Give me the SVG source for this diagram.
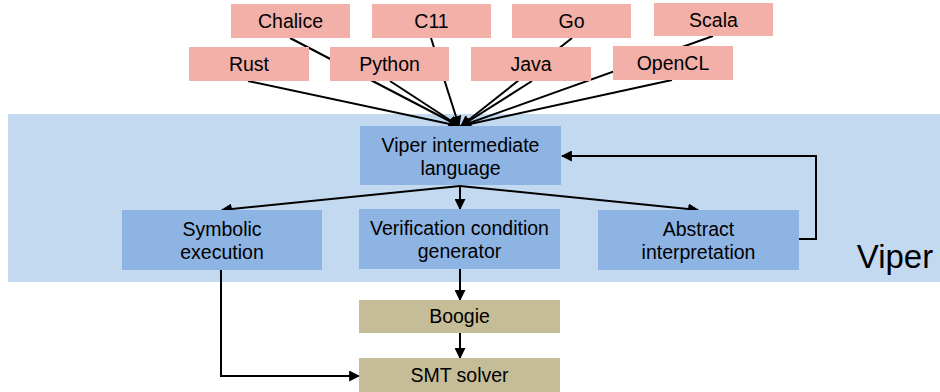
<svg xmlns="http://www.w3.org/2000/svg" width="940" height="392" viewBox="0 0 940 392">
<style>
text{font-family:"Liberation Sans",Arial,sans-serif;font-size:19.5px;fill:#000;text-anchor:middle}
.lang{fill:#F2B0A8}
.vip{fill:#8EB4E3}
.tan{fill:#C4BD97}
.c line,.c polyline{stroke:#000;stroke-width:2;fill:none}
</style>
<defs>
<marker id="ah" viewBox="0 0 10 10" refX="9" refY="5" markerWidth="5.5" markerHeight="5.5" orient="auto" markerUnits="strokeWidth">
<path d="M0,0 L10,5 L0,10 z" fill="#000"/>
</marker>
</defs>
<rect id="band" x="8" y="114" width="940" height="168" fill="#C3D9F0"/>
<text x="895" y="268" style="font-size:33px">Viper</text>
<g class="c">
<line x1="290" y1="38" x2="459" y2="126" marker-end="url(#ah)"/>
<line x1="431" y1="38" x2="459" y2="126" marker-end="url(#ah)"/>
<line x1="572" y1="38" x2="461" y2="126" marker-end="url(#ah)"/>
<line x1="713" y1="36" x2="461" y2="126" marker-end="url(#ah)"/>
<line x1="248" y1="81" x2="459" y2="126" marker-end="url(#ah)"/>
<line x1="390" y1="81" x2="459" y2="126" marker-end="url(#ah)"/>
<line x1="532" y1="81" x2="461" y2="126" marker-end="url(#ah)"/>
<line x1="672" y1="80" x2="461" y2="126" marker-end="url(#ah)"/>
<line x1="460" y1="186" x2="222" y2="210" marker-end="url(#ah)"/>
<line x1="460" y1="186" x2="460" y2="209" marker-end="url(#ah)"/>
<line x1="460" y1="186" x2="698" y2="210" marker-end="url(#ah)"/>
<polyline points="799,239 816,239 816,156 562,156" marker-end="url(#ah)"/>
<line x1="460" y1="269" x2="460" y2="300" marker-end="url(#ah)"/>
<line x1="460" y1="333" x2="460" y2="358" marker-end="url(#ah)"/>
<polyline points="221,270 221,376 359,376" marker-end="url(#ah)"/>
</g>
<g id="chalice"><rect class="lang" x="231" y="4" width="119" height="34"/><text x="290.5" y="27.5">Chalice</text></g>
<g id="c11"><rect class="lang" x="372" y="4" width="119" height="34"/><text x="431.5" y="27.5">C11</text></g>
<g id="go"><rect class="lang" x="512" y="4" width="119" height="34"/><text x="571.5" y="27.5">Go</text></g>
<g id="scala"><rect class="lang" x="654" y="3" width="119" height="33"/><text x="713.5" y="26.5">Scala</text></g>
<g id="rust"><rect class="lang" x="189" y="47" width="120" height="34"/><text x="249" y="70.5">Rust</text></g>
<g id="python"><rect class="lang" x="330" y="47" width="119" height="34"/><text x="389.5" y="70.5">Python</text></g>
<g id="java"><rect class="lang" x="471" y="47" width="120" height="34"/><text x="531" y="70.5">Java</text></g>
<g id="opencl"><rect class="lang" x="613" y="46" width="120" height="34"/><text x="673" y="69.5">OpenCL</text></g>
<g id="vil"><rect class="vip" x="360" y="126" width="201" height="59"/><text x="460.5" y="152">Viper intermediate</text><text x="460.5" y="175">language</text></g>
<g id="symb"><rect class="vip" x="122" y="210" width="200" height="60"/><text x="222" y="236">Symbolic</text><text x="222" y="259">execution</text></g>
<g id="vcg"><rect class="vip" x="359" y="209" width="201" height="60"/><text x="459.5" y="235">Verification condition</text><text x="459.5" y="258">generator</text></g>
<g id="absint"><rect class="vip" x="598" y="210" width="201" height="60"/><text x="698.5" y="236">Abstract</text><text x="698.5" y="259">interpretation</text></g>
<g id="boogie"><rect class="tan" x="359" y="300" width="201" height="33"/><text x="459.5" y="323">Boogie</text></g>
<g id="smt"><rect class="tan" x="359" y="358" width="201" height="34"/><text x="459.5" y="382">SMT solver</text></g>
</svg>
